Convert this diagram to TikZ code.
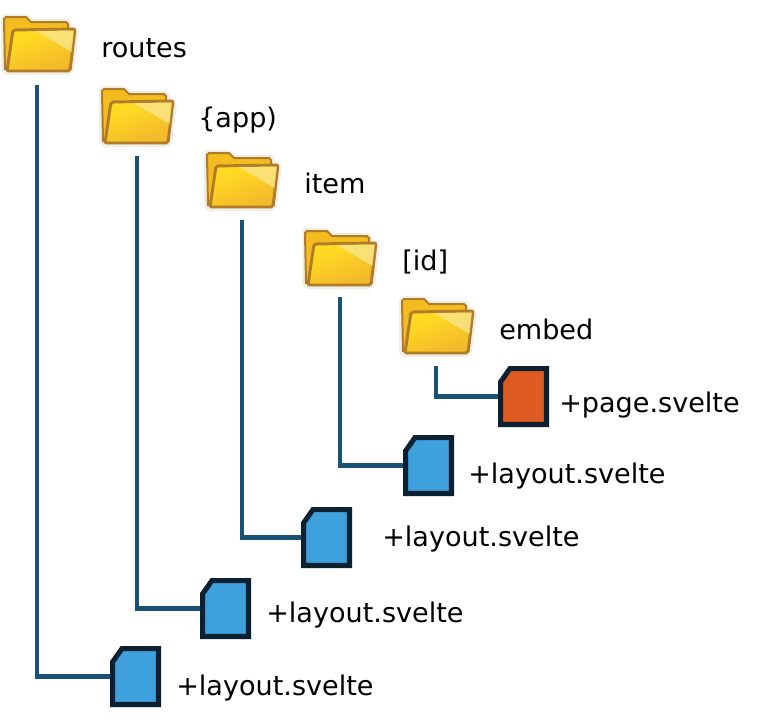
\documentclass[tikz,border=0pt]{standalone}
\usepackage{fontspec}
\setmainfont{DejaVu Sans}
\definecolor{linkc}{HTML}{1A5276}
\definecolor{edgec}{HTML}{0B2030}
\definecolor{bluef}{HTML}{3EA0DC}
\definecolor{orangef}{HTML}{DE5B22}
\definecolor{fbrown}{HTML}{B07C28}
\definecolor{fhalo}{HTML}{D8CDB8}
\definecolor{sa}{HTML}{EDA832}
\definecolor{sb}{HTML}{F5BE2A}
\definecolor{sc}{HTML}{FFD822}
\definecolor{sd}{HTML}{FFE030}
\definecolor{fback}{HTML}{F5BC20}
\definecolor{flight}{HTML}{F8E898}
\pgfdeclareverticalshading{frontshade}{100bp}{color(0bp)=(sa);color(35bp)=(sb);color(65bp)=(sc);color(100bp)=(sd)}
\tikzset{
  link/.style={draw=linkc,line width=3.6pt,line join=miter},
  filebox/.style={rectangle,minimum width=38.25pt,minimum height=45.75pt,inner sep=0pt,outer sep=0pt},
  fileline/.style={draw=edgec,line width=3.8pt,line join=miter},
  lab/.style={anchor=base west,inner sep=0pt,font=\fontsize{20.3}{24}\selectfont,text=black},
  folder/.pic={
    \fill[fhalo,opacity=.35,rounded corners=2pt] (-2,1)--(1,-2)--(24,-2)--(29,3)--(67,3)--(69,8)--(69,11)--(73,10)--(76,15)--(71,55)--(67,59)--(2,59)--(-2,55)--cycle;
    \fill[draw=fbrown,line width=1.5pt,fill=fback] (1,3)--(3,1)--(23,1)--(28,6)--(63,6)--(65,8)--(65,18)--(10,30)--(6,53)--(2,53)--cycle;
    \path[shade,shading=frontshade,shading angle=20,draw=fbrown,line width=2.2pt,rounded corners=1.5pt] (10,14)--(72,13)--(67,55)--(4,55)--cycle;
    \fill[flight,opacity=.7] (33,15)--(71,14.5)--(68.5,36)--cycle;
  }
}
\newcommand{\filepoly}[2]{%
  \path[fileline,fill=#2] ([xshift=1.9pt,yshift=-12pt]#1.north west)
    -- ([xshift=9pt,yshift=-1.9pt]#1.north west)
    -- ([xshift=-1.9pt,yshift=-1.9pt]#1.north east)
    -- ([xshift=-1.9pt,yshift=1.9pt]#1.south east)
    -- ([xshift=1.9pt,yshift=1.9pt]#1.south west) -- cycle;}
\begin{document}
\begin{tikzpicture}[x=0.75pt,y=-0.75pt]
\useasboundingbox (0,0) rectangle (758,726);
\pic at (3,16) {folder};
\pic at (101,88) {folder};
\pic at (206,152) {folder};
\pic at (304,230) {folder};
\pic at (401,298) {folder};
\node[lab] (t1) at (101,57) {routes};
\node[lab] (t2) at (198,127) {\{app)};
\node[lab] (t3) at (304,193) {item};
\node[lab] (t4) at (402,270) {[id]};
\node[lab] (t5) at (499,339) {embed};
\node[filebox] (p5) at (523.5,396.5) {};
\node[filebox] (p4) at (428.5,465.5) {};
\node[filebox] (p3) at (326.5,537.5) {};
\node[filebox] (p2) at (225.5,608.5) {};
\node[filebox] (p1) at (135.5,676.5) {};
\node[lab] (l5) at (559,412) {+page.svelte};
\node[lab] (l4) at (468,483) {+layout.svelte};
\node[lab] (l3) at (382,546) {+layout.svelte};
\node[lab] (l2) at (266,622) {+layout.svelte};
\node[lab] (l1) at (176,695) {+layout.svelte};
\coordinate (s1) at (37,85);
\coordinate (s2) at (137,156);
\coordinate (s3) at (242,220);
\coordinate (s4) at (340,297);
\coordinate (s5) at (436,366);
\draw[link] (s1) |- (p1.west);
\draw[link] (s2) |- (p2.west);
\draw[link] (s3) |- (p3.west);
\draw[link] (s4) |- (p4.west);
\draw[link] (s5) |- (p5.west);
\filepoly{p1}{bluef}
\filepoly{p2}{bluef}
\filepoly{p3}{bluef}
\filepoly{p4}{bluef}
\filepoly{p5}{orangef}
\end{tikzpicture}
\end{document}
